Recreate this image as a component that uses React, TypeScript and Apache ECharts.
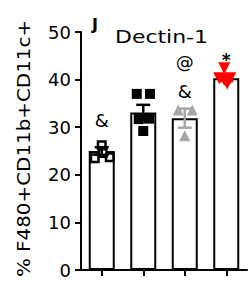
import React, { useEffect, useRef } from "react";
import * as echarts from "echarts";

// ---- data ----
const categories = ["G1", "G2", "G3", "G4"];
const barMeans = [25.0, 33.1, 31.9, 40.3];
const barSems = [0.8, 1.6, 2.0, 0.6];
const pointsG1 = [26.2, 23.5, 23.7, 24.6];
const pointsG2 = [37.0, 37.0, 31.7, 31.8, 29.2];
const pointsG3 = [33.6, 33.6, 28.2];
const pointsG4 = [42.4, 40.3, 40.3, 39.9, 39.2];
const annotationCats = [0, 2, 2, 3];
const annotationValues = [31.5, 37.5, 43.7, 44.2];
const annotationTexts = ["&", "&", "@", "*"];
const yMin = 0;
const yMax = 50;
const yInterval = 10;
const titleText = "Dectin-1";
const panelLetter = "J";
const yAxisTitle = "% F480+CD11b+CD11c+";

// horizontal jitter (px) of the dots within each bar
const jitterG1 = [0, -7, 8, 1];
const jitterG2 = [-6.5, 6.7, -4.5, 5.8, 0];
const jitterG3 = [-6.5, 7.5, 0];
const jitterG4 = [-2, -7, 4, -2, 1];

const FONT = "DejaVu Sans";
const errColors = ["#000000", "#000000", "#a6a6a6", "#ff0000"];

function pts(cat: number, vals: number[], jit: number[]) {
  return vals.map((v, i) => ({ value: [cat, v], symbolOffset: [jit[i], 0] }));
}

export default function App() {
  const ref = useRef<HTMLDivElement>(null);
  useEffect(() => {
    if (!ref.current) return;
    const chart = echarts.init(ref.current, null, { renderer: "svg" });
    const option: any = {
      animation: false,
      backgroundColor: "#ffffff",
      grid: { left: 81, right: 3, top: 32, bottom: 23, containLabel: false },
      xAxis: {
        type: "category",
        data: categories,
        axisLine: { show: true, lineStyle: { color: "#000", width: 2 } },
        axisTick: { show: true, alignWithLabel: true, length: 6, lineStyle: { color: "#000", width: 2 } },
        axisLabel: { show: false },
        splitLine: { show: false },
      },
      yAxis: {
        type: "value",
        min: yMin,
        max: yMax,
        interval: yInterval,
        axisLine: { show: true, lineStyle: { color: "#000", width: 2 } },
        axisTick: { show: true, length: 6, lineStyle: { color: "#000", width: 2 } },
        axisLabel: { margin: 10, fontSize: 18, fontFamily: FONT, color: "#000" },
        splitLine: { show: false },
      },
      graphic: [
        {
          type: "text",
          x: 24.5,
          y: 148.5,
          rotation: Math.PI / 2,
          scaleX: 1.17,
          style: {
            text: yAxisTitle,
            fontSize: 17,
            fontFamily: FONT,
            fill: "#000",
            textAlign: "center",
            textVerticalAlign: "middle",
          },
        },
        {
          type: "text",
          x: 161.5,
          y: 36.5,
          scaleX: 1.22,
          style: {
            text: titleText,
            fontSize: 18,
            fontFamily: FONT,
            fill: "#000",
            textAlign: "center",
            textVerticalAlign: "middle",
          },
        },
        {
          type: "text",
          x: 95,
          y: 24,
          style: {
            text: panelLetter,
            fontSize: 16,
            fontWeight: "bold",
            fontFamily: FONT,
            fill: "#000",
            textAlign: "center",
            textVerticalAlign: "middle",
          },
        },
      ],
      series: [
        {
          type: "bar",
          data: barMeans,
          barWidth: 26,
          z: 2,
          itemStyle: { color: "#ffffff", borderColor: "#000", borderWidth: 2 },
        },
        {
          type: "scatter",
          data: pts(0, pointsG1, jitterG1),
          symbol: "rect",
          symbolSize: 7.5,
          z: 3,
          itemStyle: { color: "#ffffff", borderColor: "#000", borderWidth: 2.5, opacity: 1 },
        },
        {
          type: "scatter",
          data: pts(1, pointsG2, jitterG2),
          symbol: "rect",
          symbolSize: 10,
          z: 3,
          itemStyle: { color: "#000", opacity: 1 },
        },
        {
          type: "scatter",
          data: pts(2, pointsG3, jitterG3),
          symbol: "triangle",
          symbolSize: 11,
          z: 3,
          itemStyle: { color: "#a6a6a6", opacity: 1 },
        },
        {
          type: "scatter",
          data: pts(3, pointsG4, jitterG4),
          symbol: "triangle",
          symbolRotate: 180,
          symbolSize: 12,
          z: 3,
          itemStyle: { color: "#ff0000", opacity: 1 },
        },
        {
          type: "custom",
          z: 4,
          data: barMeans.map((m, i) => [i, m, barSems[i]]),
          renderItem: (params: any, api: any) => {
            const i = api.value(0);
            const m = api.value(1);
            const s = api.value(2);
            const top = api.coord([i, m + s]);
            const bot = api.coord([i, m - s]);
            const hw = 7;
            const c = errColors[i];
            const st = { stroke: c, lineWidth: 2.5 };
            return {
              type: "group",
              children: [
                { type: "line", shape: { x1: top[0], y1: top[1], x2: bot[0], y2: bot[1] }, style: st },
                { type: "line", shape: { x1: top[0] - hw, y1: top[1], x2: top[0] + hw, y2: top[1] }, style: st },
                { type: "line", shape: { x1: bot[0] - hw, y1: bot[1], x2: bot[0] + hw, y2: bot[1] }, style: st },
              ],
            };
          },
        },
        {
          type: "custom",
          z: 5,
          data: annotationValues.map((v, i) => [annotationCats[i], v]),
          renderItem: (params: any, api: any) => {
            const p = api.coord([api.value(0), api.value(1)]);
            const t = annotationTexts[params.dataIndex];
            const isStar = t === "*";
            return {
              type: "text",
              x: p[0],
              y: p[1],
              style: {
                text: t,
                fill: "#000",
                fontFamily: FONT,
                fontSize: isStar ? 17 : 18,
                fontWeight: isStar ? "bold" : "normal",
                textAlign: "center",
                textVerticalAlign: "middle",
              },
            };
          },
        },
      ],
    };
    chart.setOption(option);
    return () => chart.dispose();
  }, []);
  return <div ref={ref} style={{ width: 250, height: 293, position: "absolute", left: 0, top: 0 }} />;
}
